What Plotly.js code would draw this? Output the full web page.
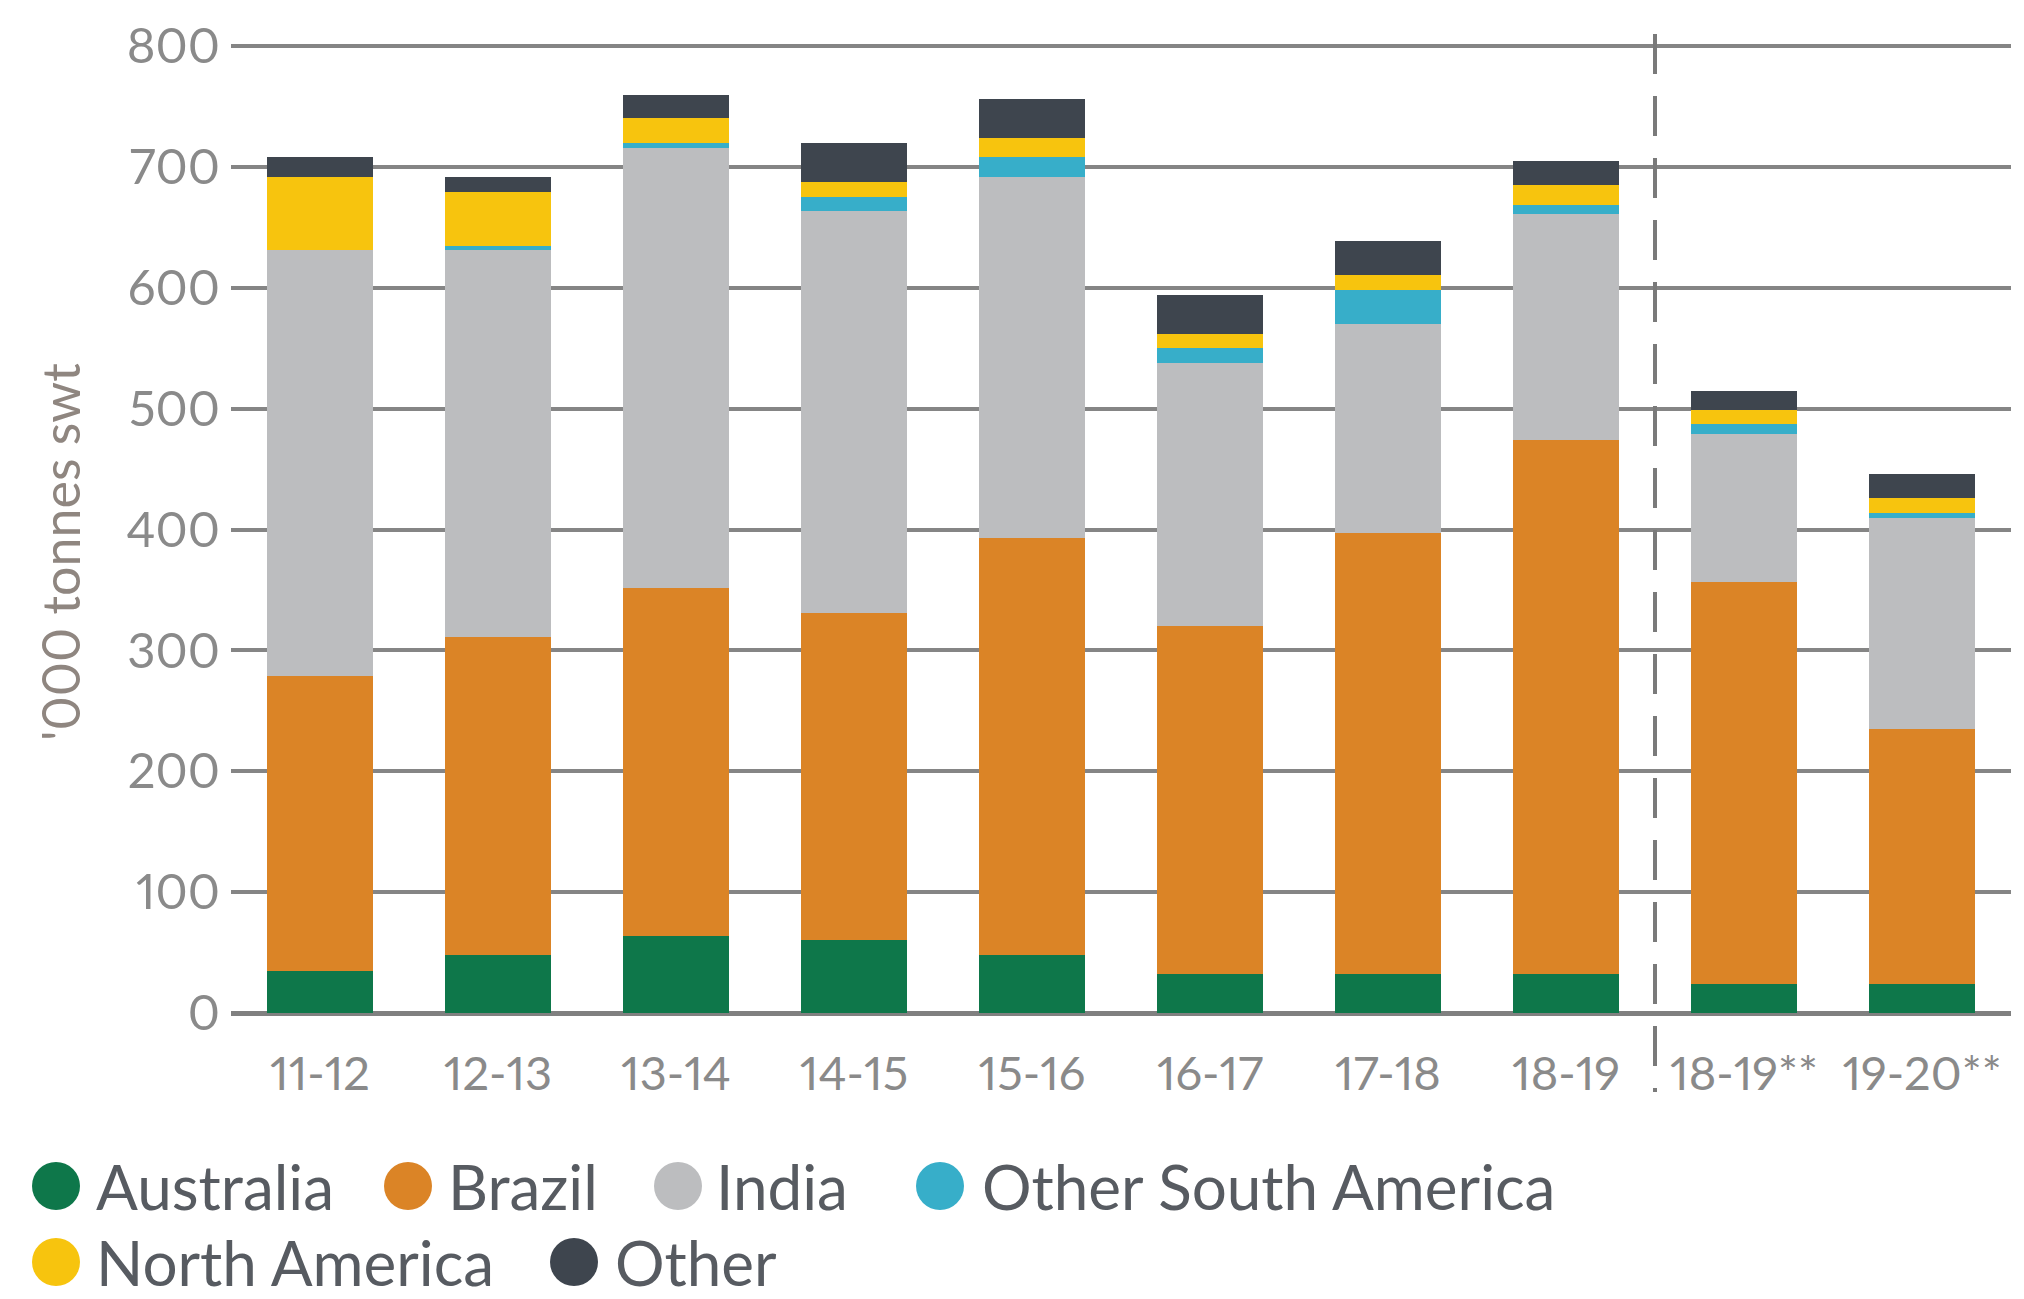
<!DOCTYPE html>
<html>
<head>
<meta charset="utf-8">
<script src="https://cdn.plot.ly/plotly-3.0.1.min.js"></script>
<style>
  html, body { margin: 0; padding: 0; background: #ffffff; }
  #chart { width: 2024px; height: 1299px; }
  #chart svg text { font-feature-settings: "pnum" 1; }
</style>
</head>
<body>
<div id="chart"></div>
<script>
// ---- data ----
const categories = ['11-12', '12-13', '13-14', '14-15', '15-16', '16-17', '17-18', '18-19', '18-19**', '19-20**'];
const australia = [35, 48, 64, 60, 48, 32, 32, 32, 24, 24];
const brazil = [244, 263, 288, 271, 345, 288, 365, 442, 333, 211];
const india = [352, 320, 364, 333, 299, 218, 173, 187, 122, 175];
const otherSouthAmerica = [0, 4, 4, 11, 16, 12, 28, 8, 8, 4];
const northAmerica = [61, 44, 21, 13, 16, 12, 13, 16, 12, 12];
const other = [16, 13, 19, 32, 32, 32, 28, 20, 16, 20];
const seriesNames = ['Australia', 'Brazil', 'India', 'Other South America', 'North America', 'Other'];
const yTicks = [0, 100, 200, 300, 400, 500, 600, 700, 800];
const yTitle = "'000 tonnes swt";
const splitAfter = '18-19'; // dashed divider between actual and forecast

// ---- styles ----
const colors = ['#0e774a', '#db8426', '#bcbdbf', '#37aec9', '#f7c40e', '#3e454e'];
const seriesValues = [australia, brazil, india, otherSouthAmerica, northAmerica, other];
const FONT = 'Lato, "Open Sans", sans-serif';

const W = 2024, H = 1299;
const M = { l: 231, r: 13, t: 45, b: 286 };
const plotW = W - M.l - M.r, plotH = H - M.t - M.b;
const px2x = X => (X - M.l) / plotW;
const px2y = Y => (H - M.b - Y) / plotH;

const traces = seriesNames.map((name, i) => ({
  type: 'bar',
  name: name,
  x: categories,
  y: seriesValues[i],
  marker: { color: colors[i], line: { width: 0 } },
  showlegend: false,
  hoverinfo: 'x+y+name'
}));

// legend layout (pixel positions of markers / label starts)
const legendItems = [
  { mx: 56, tx: 94, y: 1186 },
  { mx: 408, tx: 446, y: 1186 },
  { mx: 678, tx: 714, y: 1186 },
  { mx: 940, tx: 980, y: 1186 },
  { mx: 56, tx: 94, y: 1262 },
  { mx: 574, tx: 613, y: 1262 }
];

const shapes = [];
const annotations = [];
seriesNames.forEach((name, i) => {
  const it = legendItems[i];
  shapes.push({
    type: 'circle', xref: 'paper', yref: 'paper',
    xsizemode: 'pixel', ysizemode: 'pixel',
    xanchor: px2x(it.mx), yanchor: px2y(it.y),
    x0: -24, x1: 24, y0: -24, y1: 24,
    fillcolor: colors[i], line: { width: 0 }
  });
  annotations.push({
    xref: 'paper', yref: 'paper', x: px2x(it.tx), y: px2y(it.y),
    xanchor: 'left', yanchor: 'middle', showarrow: false,
    text: name, font: { family: FONT, size: 62, color: '#575b61' }
  });
});

// y axis title
annotations.push({
  xref: 'paper', yref: 'paper', x: px2x(60), y: px2y(552),
  xanchor: 'center', yanchor: 'middle', showarrow: false, textangle: -90,
  text: yTitle, font: { family: FONT, size: 52, color: '#8f8680' }
});

const splitIdx = categories.indexOf(splitAfter);
shapes.push({
  type: 'line', xref: 'x', yref: 'paper',
  x0: splitIdx + 0.5, x1: splitIdx + 0.5,
  y0: px2y(34), y1: px2y(1092),
  line: { color: '#7a7a7a', width: 4, dash: '40px,22px' }
});

const layout = {
  width: W, height: H,
  margin: M,
  paper_bgcolor: '#ffffff', plot_bgcolor: '#ffffff',
  barmode: 'stack',
  bargap: 0.4,
  showlegend: false,
  font: { family: FONT, color: '#8a8a8a' },
  xaxis: {
    type: 'category',
    range: [-0.5, categories.length - 0.5],
    showgrid: false, zeroline: false, showline: false,
    ticks: '',
    tickfont: { family: FONT, size: 47, color: '#8a8a8a' },
    ticklabelstandoff: 29
  },
  yaxis: {
    range: [0, 801],
    tickvals: yTicks,
    showgrid: true, gridcolor: '#858585', gridwidth: 4,
    zeroline: true, zerolinecolor: '#808080', zerolinewidth: 5,
    showline: false, ticks: '',
    tickfont: { family: FONT, size: 49, color: '#8a8a8a' },
    ticklabelstandoff: 10
  },
  shapes: shapes,
  annotations: annotations
};

Plotly.newPlot('chart', traces, layout, { staticPlot: true, displayModeBar: false });
</script>
</body>
</html>
